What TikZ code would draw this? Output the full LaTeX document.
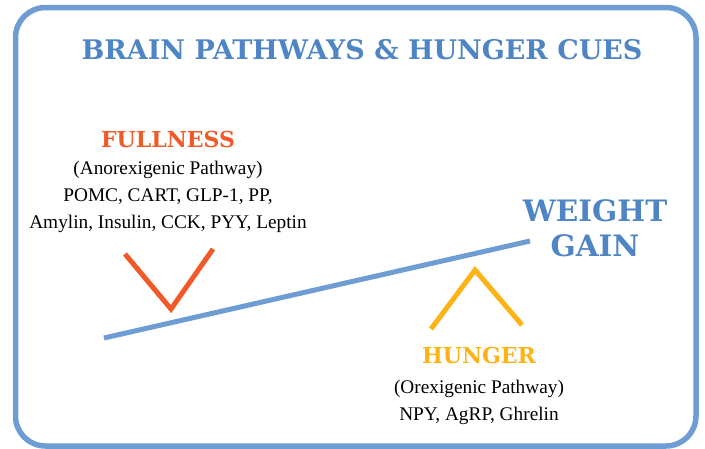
\documentclass[tikz,border=0pt]{standalone}
\usepackage{fontspec}
\setmainfont{Liberation Serif}
\newfontfamily\slabfont{DejaVu Serif}

\definecolor{frameblue}{HTML}{6E9DD3}
\definecolor{titleblue}{HTML}{4F85C5}
\definecolor{fullorange}{HTML}{F05A28}
\definecolor{hungeryellow}{HTML}{FCB316}

\tikzset{
  headtext/.style={font=\slabfont\bfseries\fontsize{22}{26}\selectfont, inner sep=0pt},
  bodytext/.style={font=\fontsize{19.3}{27}\selectfont, align=center, inner sep=0pt},
  stroke/.style={line width=5pt}
}

\begin{document}
\begin{tikzpicture}[x=1pt,y=-1pt]

    % Fix the page to the reference size
    \useasboundingbox (0,0) rectangle (705,448);

    % Rounded frame round the whole panel
    \draw[frameblue, line width=5.5pt, rounded corners=30pt] (15.5,7.5) rectangle (696,446);

    % Title
    \node[headtext, titleblue, font=\slabfont\bfseries\fontsize{27}{30}\selectfont] (title) at (362,50) {BRAIN PATHWAYS \& HUNGER CUES};

    % Fullness side (left)
    \node[headtext, fullorange] (full) at (168,139) {FULLNESS};
    \node[bodytext] (fullsub) at (168,196.5) {(Anorexigenic Pathway)\\POMC, CART, GLP-1, PP,\\Amylin, Insulin, CCK, PYY, Leptin};
    \draw[stroke, fullorange] (125,254) -- (171,309) -- (213,249);  % V mark

    % The balance beam
    \draw[stroke, frameblue] (104,338) -- (530,241);

    % Weight gain label
    \node[headtext, titleblue, align=center, font=\slabfont\bfseries\fontsize{29.5}{35}\selectfont] (gain) at (595,228) {WEIGHT\\GAIN};

    % Hunger side (right)
    \draw[stroke, hungeryellow] (431,329) -- (475,270) -- (522,325);  % inverted V mark
    \node[headtext, hungeryellow] (hunger) at (479,355) {HUNGER};
    \node[bodytext] (hungersub) at (479,402) {(Orexigenic Pathway)\\NPY, AgRP, Ghrelin};
\end{tikzpicture}
\end{document}
